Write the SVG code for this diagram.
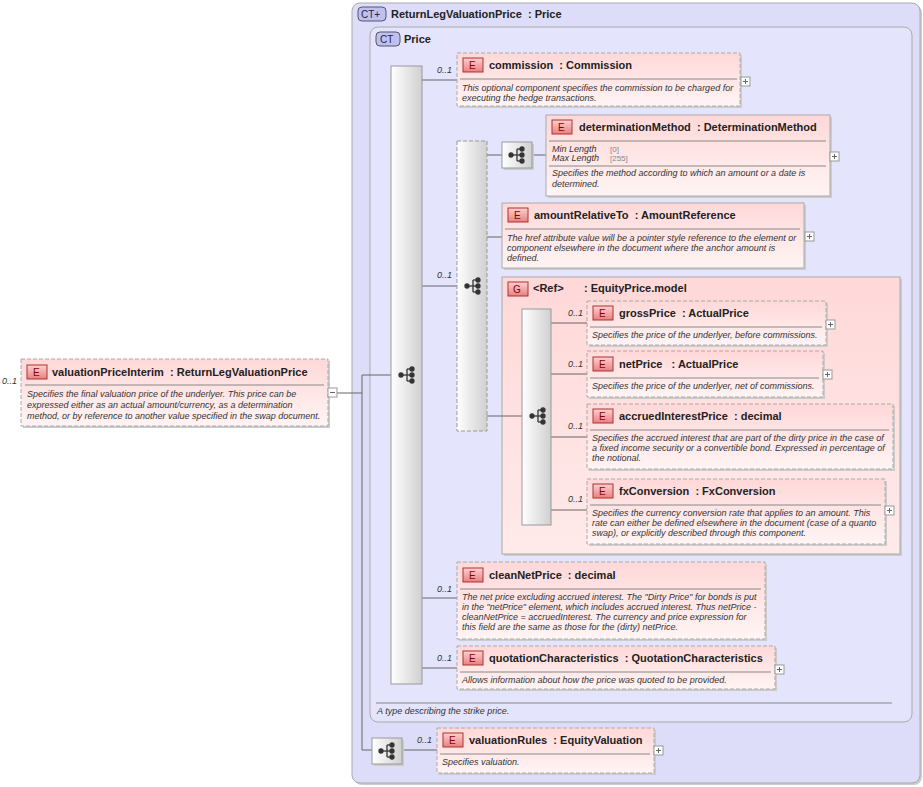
<svg xmlns="http://www.w3.org/2000/svg" width="923" height="787" viewBox="0 0 923 787">
<defs>
<linearGradient id="eg" x1="0" y1="0" x2="0" y2="1"><stop offset="0" stop-color="#ffd8d8"/><stop offset="1" stop-color="#fff4f4"/></linearGradient>
<linearGradient id="eb" x1="0" y1="0" x2="0" y2="1"><stop offset="0" stop-color="#ffd0d0"/><stop offset="1" stop-color="#e88080"/></linearGradient>
<linearGradient id="sg" x1="0" y1="0" x2="1" y2="0"><stop offset="0" stop-color="#ffffff"/><stop offset="1" stop-color="#d0d0d0"/></linearGradient>
<linearGradient id="gg" x1="0" y1="0" x2="0" y2="1"><stop offset="0" stop-color="#ffd8d8"/><stop offset="1" stop-color="#ffeaea"/></linearGradient>
<g id="seqi"><line x1="-6" y1="0" x2="0" y2="0"/><circle cx="-6" cy="0" r="2"/><line x1="0" y1="-6" x2="0" y2="6"/><line x1="0" y1="-6" x2="5" y2="-6"/><line x1="0" y1="0" x2="5" y2="0"/><line x1="0" y1="6" x2="5" y2="6"/><circle cx="5" cy="-6" r="2"/><circle cx="5" cy="0" r="2"/><circle cx="5" cy="6" r="2"/></g>
</defs>
<style>
text{font-family:"Liberation Sans",Arial,sans-serif;fill:#222;white-space:pre}
.n{font-size:11px;font-weight:bold}
.d{font-size:9px;font-style:italic;fill:#333}
.m{font-size:9px;font-style:italic;fill:#333}
.b{font-size:10px;fill:#800}
.el{fill:url(#eg);stroke:#aaa;stroke-dasharray:4,2}
.els{fill:url(#eg);stroke:#aaa}
.sh{fill:#ccc}
.badge{fill:url(#eb);stroke:#a33}
.sep{stroke:#888;stroke-width:1}
.c line{stroke:#666;fill:none}
.pl{fill:#fff;stroke:#999}
.ic{stroke:#333;fill:#333;stroke-width:1.3}
.ct{fill:#ddddfa;stroke:#aaa}
.ctb{fill:#c0c0f0;stroke:#556}
</style>

<g id="ct-outer">
<rect x="354" y="5" width="568" height="780" rx="8" class="sh"/>
<rect x="352" y="3" width="568" height="780" rx="8" class="ct"/>
<rect x="358" y="7" width="28" height="14" rx="4" class="ctb"/>
<text x="361" y="18" style="font-size:10px;fill:#224">CT+</text>
<text x="391" y="18" class="n">ReturnLegValuationPrice  : Price</text>
</g>
<g id="ct-price">
<rect x="370" y="27" width="542" height="695" rx="8" fill="#e4e4fc" stroke="#aaa"/>
<rect x="376" y="32" width="24" height="14" rx="4" class="ctb"/>
<text x="380" y="43" style="font-size:10px;fill:#224">CT</text>
<text x="404" y="43" class="n">Price</text>
<line x1="376" y1="703" x2="892" y2="703" class="sep"/>
<text x="377" y="714" class="m">A type describing the strike price.</text>
</g>
<g id="group-equityprice">
<rect x="504" y="279" width="398" height="277" class="sh"/>
<rect x="502" y="277" width="398" height="277" fill="url(#gg)" stroke="#aaa"/>
<rect x="508" y="282" width="20" height="14" class="badge"/><text x="513" y="293" class="b">G</text>
<text x="533" y="292" class="n">&lt;Ref&gt;</text>
<text x="584" y="292" class="n">: EquityPrice.model</text>
</g>

<g id="connectors" class="c">
<line x1="337" y1="393" x2="362" y2="393"/>
<line x1="362" y1="375" x2="362" y2="750"/>
<line x1="362" y1="375" x2="391" y2="375"/>
<line x1="362" y1="750" x2="372" y2="750"/>
<line x1="402" y1="750" x2="437" y2="750"/>
<line x1="422" y1="80" x2="457" y2="80"/>
<line x1="422" y1="286" x2="457" y2="286"/>
<line x1="422" y1="598" x2="457" y2="598"/>
<line x1="422" y1="668" x2="457" y2="668"/>
<line x1="487" y1="155" x2="502" y2="155"/>
<line x1="532" y1="155" x2="546" y2="155"/>
<line x1="487" y1="237" x2="502" y2="237"/>
<line x1="487" y1="416" x2="522" y2="416"/>
<line x1="551" y1="323" x2="587" y2="323"/>
<line x1="551" y1="374" x2="587" y2="374"/>
<line x1="551" y1="437" x2="587" y2="437"/>
<line x1="551" y1="510" x2="587" y2="510"/>
</g>

<g id="valuationPriceInterim">
<text x="2" y="384" class="m">0..1</text>
<rect x="23" y="361" width="307" height="67" class="sh"/>
<rect x="21" y="359" width="307" height="67" class="el"/>
<rect x="27" y="365" width="20" height="14" class="badge"/><text x="33" y="376" class="b">E</text>
<text x="52" y="376" class="n">valuationPriceInterim  : ReturnLegValuationPrice</text>
<line x1="25" y1="385" x2="324" y2="385" class="sep"/>
<text x="27" y="397" class="d">Specifies the final valuation price of the underlyer. This price can be</text>
<text x="27" y="408" class="d">expressed either as an actual amount/currency, as a determination</text>
<text x="27" y="419" class="d">method, or by reference to another value specified in the swap document.</text>
<rect x="328" y="388" width="9" height="9" class="pl"/><line x1="330" y1="392.5" x2="335" y2="392.5" stroke="#666"/>
</g>

<g id="seq-main">
<rect x="391" y="66" width="31" height="618" fill="url(#sg)" stroke="#999"/>
<use href="#seqi" x="407" y="375" class="ic"/>
</g>

<g id="commission">
<text x="437" y="73" class="m">0..1</text>
<rect x="459" y="55" width="283" height="53" class="sh"/>
<rect x="457" y="53" width="283" height="53" class="el"/>
<rect x="463" y="58" width="20" height="14" class="badge"/><text x="469" y="69" class="b">E</text>
<text x="489" y="69" class="n">commission  : Commission</text>
<line x1="460" y1="79" x2="737" y2="79" class="sep"/>
<text x="462" y="91" class="d">This optional component specifies the commission to be charged for</text>
<text x="462" y="101" class="d">executing the hedge transactions.</text>
<rect x="741" y="77" width="9" height="9" class="pl"/><path d="M743 81.5h5M745.5 79v5" stroke="#666"/>
</g>

<g id="choice">
<text x="437" y="278" class="m">0..1</text>
<rect x="457" y="141" width="30" height="290" fill="url(#sg)" stroke="#999" stroke-dasharray="4,2"/>
<use href="#seqi" x="473" y="286" class="ic"/>
</g>

<g id="determinationMethod">
<rect x="504" y="144" width="30" height="26" class="sh"/>
<rect x="502" y="142" width="30" height="26" fill="url(#sg)" stroke="#999"/>
<use href="#seqi" x="517" y="155" class="ic"/>
<rect x="548" y="117" width="284" height="81" class="sh"/>
<rect x="546" y="115" width="284" height="81" class="els"/>
<rect x="552" y="120" width="20" height="14" class="badge"/><text x="558" y="131" class="b">E</text>
<text x="579" y="131" class="n">determinationMethod  : DeterminationMethod</text>
<line x1="549" y1="141" x2="826" y2="141" class="sep"/>
<text x="552" y="152" class="d">Min Length</text><text x="610" y="152" style="font-size:8px;fill:#888">[0]</text>
<text x="552" y="161" class="d">Max Length</text><text x="610" y="161" style="font-size:8px;fill:#888">[255]</text>
<line x1="549" y1="166" x2="826" y2="166" class="sep"/>
<text x="552" y="176" class="d">Specifies the method according to which an amount or a date is</text>
<text x="552" y="187" class="d">determined.</text>
<rect x="830" y="152" width="9" height="9" class="pl"/><path d="M832 156.5h5M834.5 154v5" stroke="#666"/>
</g>

<g id="amountRelativeTo">
<rect x="504" y="205" width="302" height="65" class="sh"/>
<rect x="502" y="203" width="302" height="65" class="els"/>
<rect x="508" y="208" width="20" height="14" class="badge"/><text x="514" y="219" class="b">E</text>
<text x="534" y="219" class="n">amountRelativeTo  : AmountReference</text>
<line x1="505" y1="229" x2="800" y2="229" class="sep"/>
<text x="507" y="241" class="d">The href attribute value will be a pointer style reference to the element or</text>
<text x="507" y="251" class="d">component elsewhere in the document where the anchor amount is</text>
<text x="507" y="261" class="d">defined.</text>
<rect x="805" y="232" width="9" height="9" class="pl"/><path d="M807 236.5h5M809.5 234v5" stroke="#666"/>
</g>

<g id="seq-group">
<rect x="522" y="309" width="29" height="216" fill="url(#sg)" stroke="#999"/>
<use href="#seqi" x="538" y="416" class="ic"/>
</g>

<g id="grossPrice">
<text x="568" y="316" class="m">0..1</text>
<rect x="589" y="303" width="239" height="44" class="sh"/>
<rect x="587" y="301" width="239" height="44" class="el"/>
<rect x="593" y="306" width="20" height="14" class="badge"/><text x="599" y="317" class="b">E</text>
<text x="619" y="317" class="n">grossPrice  : ActualPrice</text>
<line x1="590" y1="327" x2="822" y2="327" class="sep"/>
<text x="592" y="338" class="d">Specifies the price of the underlyer, before commissions.</text>
<rect x="826" y="320" width="9" height="9" class="pl"/><path d="M828 324.5h5M830.5 322v5" stroke="#666"/>
</g>

<g id="netPrice">
<text x="568" y="367" class="m">0..1</text>
<rect x="589" y="353" width="236" height="46" class="sh"/>
<rect x="587" y="351" width="236" height="46" class="el"/>
<rect x="593" y="357" width="20" height="14" class="badge"/><text x="599" y="368" class="b">E</text>
<text x="619" y="368" class="n">netPrice   : ActualPrice</text>
<line x1="590" y1="378" x2="819" y2="378" class="sep"/>
<text x="592" y="389" class="d">Specifies the price of the underlyer, net of commissions.</text>
<rect x="823" y="370" width="9" height="9" class="pl"/><path d="M825 374.5h5M827.5 372v5" stroke="#666"/>
</g>

<g id="accruedInterestPrice">
<text x="568" y="429" class="m">0..1</text>
<rect x="589" y="406" width="306" height="65" class="sh"/>
<rect x="587" y="404" width="306" height="65" class="el"/>
<rect x="593" y="409" width="20" height="14" class="badge"/><text x="599" y="420" class="b">E</text>
<text x="619" y="420" class="n">accruedInterestPrice  : decimal</text>
<line x1="590" y1="430" x2="889" y2="430" class="sep"/>
<text x="592" y="441" class="d">Specifies the accrued interest that are part of the dirty price in the case of</text>
<text x="592" y="451" class="d">a fixed income security or a convertible bond. Expressed in percentage of</text>
<text x="592" y="461" class="d">the notional.</text>
</g>

<g id="fxConversion">
<text x="568" y="502" class="m">0..1</text>
<rect x="589" y="481" width="298" height="65" class="sh"/>
<rect x="587" y="479" width="298" height="65" class="el"/>
<rect x="593" y="484" width="20" height="14" class="badge"/><text x="599" y="495" class="b">E</text>
<text x="619" y="495" class="n">fxConversion  : FxConversion</text>
<line x1="590" y1="505" x2="881" y2="505" class="sep"/>
<text x="592" y="516" class="d">Specifies the currency conversion rate that applies to an amount. This</text>
<text x="592" y="526" class="d">rate can either be defined elsewhere in the document (case of a quanto</text>
<text x="592" y="536" class="d">swap), or explicitly described through this component.</text>
<rect x="885" y="506" width="9" height="9" class="pl"/><path d="M887 510.5h5M889.5 508v5" stroke="#666"/>
</g>

<g id="cleanNetPrice">
<text x="437" y="592" class="m">0..1</text>
<rect x="459" y="564" width="308" height="77" class="sh"/>
<rect x="457" y="562" width="308" height="77" class="el"/>
<rect x="463" y="568" width="20" height="14" class="badge"/><text x="469" y="579" class="b">E</text>
<text x="489" y="579" class="n">cleanNetPrice  : decimal</text>
<line x1="460" y1="589" x2="761" y2="589" class="sep"/>
<text x="462" y="600" class="d">The net price excluding accrued interest. The "Dirty Price" for bonds is put</text>
<text x="462" y="610" class="d">in the "netPrice" element, which includes accrued interest. Thus netPrice -</text>
<text x="462" y="620" class="d">cleanNetPrice = accruedInterest. The currency and price expression for</text>
<text x="462" y="630" class="d">this field are the same as those for the (dirty) netPrice.</text>
</g>

<g id="quotationCharacteristics">
<text x="437" y="661" class="m">0..1</text>
<rect x="459" y="648" width="318" height="43" class="sh"/>
<rect x="457" y="646" width="318" height="43" class="el"/>
<rect x="463" y="651" width="20" height="14" class="badge"/><text x="469" y="662" class="b">E</text>
<text x="489" y="662" class="n">quotationCharacteristics  : QuotationCharacteristics</text>
<line x1="460" y1="672" x2="771" y2="672" class="sep"/>
<text x="462" y="683" class="d">Allows information about how the price was quoted to be provided.</text>
<rect x="775" y="665" width="9" height="9" class="pl"/><path d="M777 669.5h5M779.5 667v5" stroke="#666"/>
</g>

<g id="valuationRules">
<rect x="374" y="740" width="30" height="26" class="sh"/>
<rect x="372" y="738" width="30" height="26" fill="url(#sg)" stroke="#999"/>
<use href="#seqi" x="387" y="751" class="ic"/>
<text x="417" y="743" class="m">0..1</text>
<rect x="439" y="730" width="217" height="45" class="sh"/>
<rect x="437" y="728" width="217" height="45" class="el"/>
<rect x="443" y="733" width="20" height="14" class="badge"/><text x="449" y="744" class="b">E</text>
<text x="469" y="744" class="n">valuationRules  : EquityValuation</text>
<line x1="440" y1="754" x2="650" y2="754" class="sep"/>
<text x="442" y="765" class="d">Specifies valuation.</text>
<rect x="654" y="746" width="9" height="9" class="pl"/><path d="M656 750.5h5M658.5 748v5" stroke="#666"/>
</g>
</svg>
